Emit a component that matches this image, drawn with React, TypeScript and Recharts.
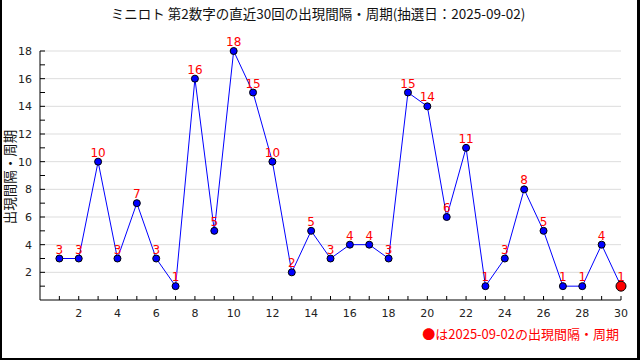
import React from "react";
import { LineChart, Line, XAxis, YAxis, CartesianGrid, LabelList } from "recharts";

const draws = [1, 2, 3, 4, 5, 6, 7, 8, 9, 10, 11, 12, 13, 14, 15, 16, 17, 18, 19, 20, 21, 22, 23, 24, 25, 26, 27, 28, 29, 30];
const intervals = [3, 3, 10, 3, 7, 3, 1, 16, 5, 18, 15, 10, 2, 5, 3, 4, 4, 3, 15, 14, 6, 11, 1, 3, 8, 5, 1, 1, 4, 1];
const xTicks = draws;
const yTicks = [1, 2, 3, 4, 5, 6, 7, 8, 9, 10, 11, 12, 13, 14, 15, 16, 17, 18];
const gridValues = [2, 4, 6, 8, 10, 12, 14, 16, 18];

const TITLE = "ミニロト 第2数字の直近30回の出現間隔・周期(抽選日：2025-09-02)";
const NOTE = "●は2025-09-02の出現間隔・周期";
const Y_LABEL = "出現間隔・周期";

const data = draws.map((d, i) => ({ draw: d, value: intervals[i] }));

const AXIS_FONT = "'DejaVu Sans', sans-serif";
const JP_FONT = "'Noto Sans CJK JP', sans-serif";

const XTick = (props: any) => {
  const { x, y, payload } = props;
  const v = payload.value;
  return (
    <g>
      <line x1={x} y1={y} x2={x} y2={y - 4} stroke="#000" />
      {v % 2 === 0 && (
        <text x={x} y={y + 17} textAnchor="middle" fontSize={11} fill="#222" fontFamily={AXIS_FONT}>{v}</text>
      )}
    </g>
  );
};

const YTick = (props: any) => {
  const { x, y, payload } = props;
  const v = payload.value;
  return (
    <g>
      <line x1={x} y1={y} x2={x + 5} y2={y} stroke="#000" />
      {v % 2 === 0 && (
        <text x={x - 8} y={y + 4} textAnchor="end" fontSize={11} fill="#222" fontFamily={AXIS_FONT}>{v}</text>
      )}
    </g>
  );
};

const Dot = (props: any) => {
  const { cx, cy, index } = props;
  const last = index === data.length - 1;
  return (
    <circle key={index} cx={cx} cy={cy} r={last ? 5 : 3.5}
      fill={last ? "#ff0000" : "#0000ff"} stroke="#000" strokeWidth={1} />
  );
};

export default function App() {
  return (
    <div style={{ position: "absolute", left: 0, top: 0, width: 640, height: 360, background: "#fff", overflow: "hidden" }}>
      <div style={{ position: "absolute", left: 0, top: 3, width: 636, textAlign: "center",
        fontFamily: JP_FONT, fontSize: 13.5, color: "#111" }}>{TITLE}</div>
      <LineChart width={640} height={360} data={data}
        margin={{ top: 51, right: 19, bottom: 0, left: 0 }}>
        <CartesianGrid vertical={false} horizontalValues={gridValues} stroke="#dddddd" />
        <XAxis dataKey="draw" type="number" domain={[0, 30]} ticks={xTicks} height={60}
          tickSize={0} tickMargin={0} tick={<XTick />} stroke="#000" interval={0} />
        <YAxis type="number" domain={[0, 18]} ticks={yTicks} width={40}
          tickSize={0} tickMargin={0} tick={<YTick />} stroke="#000" interval={0} />
        <Line dataKey="value" type="linear" stroke="#0000ff" strokeWidth={1}
          dot={<Dot />} activeDot={false} isAnimationActive={false}>
          <LabelList dataKey="value" position="top" offset={5} fill="#ff0000"
            fontSize={12} fontFamily={AXIS_FONT} />
        </Line>
      </LineChart>
      <div style={{ position: "absolute", left: 1, top: 177, transform: "translateY(-50%) rotate(-90deg)",
        transformOrigin: "center", width: 16, height: 16, display: "flex", alignItems: "center", justifyContent: "center" }}>
        <span style={{ whiteSpace: "nowrap", fontFamily: JP_FONT, fontSize: 13.5, color: "#111" }}>{Y_LABEL}</span>
      </div>
      <div style={{ position: "absolute", right: 21, top: 324, fontFamily: JP_FONT, fontSize: 13,
        color: "#ff0000", whiteSpace: "nowrap" }}>{NOTE}</div>
      <div style={{ position: "absolute", left: 0, top: 0, width: 640, height: 360, boxSizing: "border-box",
        borderLeft: "2px solid #000", borderRight: "3px solid #000", borderBottom: "2px solid #000", pointerEvents: "none" }} />
    </div>
  );
}
